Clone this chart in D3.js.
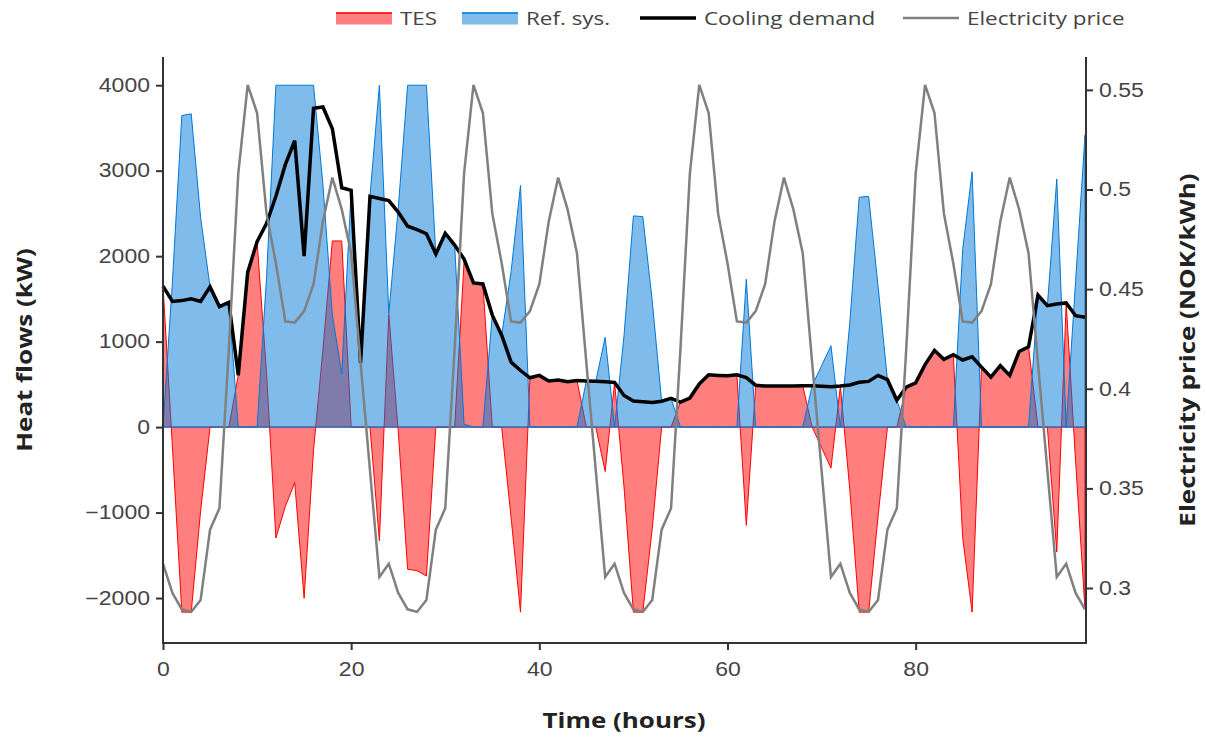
<!DOCTYPE html>
<html>
<head>
<meta charset="utf-8">
<script src="https://cdn.jsdelivr.net/npm/d3@7"></script>
<style>
  body { margin: 0; background: #fff; }
  svg { font-family: 'Open Sans', 'Noto Sans', sans-serif; }
</style>
</head>
<body>
<svg id="chart" width="1207" height="737"></svg>
<script>
// hourly values, index = hour (0..98)
const coolingDemand = [
  1650, 1470, 1480, 1500, 1470, 1640, 1410, 1460, 605, 1810,
  2170, 2380, 2700, 3070, 3350, 2000, 3730, 3745, 3490, 2800,
  2770, 750, 2700, 2675, 2650, 2515, 2350, 2310, 2262, 2025,
  2268, 2129, 1965, 1686, 1675, 1310, 1075, 760, 662, 577,
  605, 540, 550, 530, 545, 540, 535, 530, 522, 370,
  306, 297, 288, 302, 337, 293, 340, 505, 612, 605,
  600, 612, 580, 490, 480, 482, 480, 480, 484, 484,
  478, 472, 480, 493, 525, 535, 605, 555, 313, 468,
  518, 731, 898, 793, 848, 785, 822, 701, 585, 718,
  605, 885, 939, 1545, 1420, 1440, 1453, 1303, 1286
]

const tes = [
  1650, -230, -2165, -2165, -980, 0, 0, 0, 605, 1810,
  2170, 640, -1298, -930, -650, -2004, -270, 910, 2178, 2178,
  0, 0, 0, -1330, 1320, -40, -1662, -1680, -1742, 0,
  0, 0, 1930, 1686, 1675, 0, 0, -1060, -2165, 577,
  605, 540, 550, 530, 545, 0, 0, -520, 522, -700,
  -2165, -2165, -1190, 0, 0, 293, 340, 505, 612, 605,
  600, 612, -1150, 490, 480, 482, 480, 480, 484, 0,
  -240, -480, 480, -730, -2165, -2165, -1050, 0, 0, 468,
  518, 731, 898, 793, 848, -1294, -2165, 701, 585, 718,
  605, 885, 939, 0, 0, -1462, 1453, -400, -2130
]

const refSys = [
  0, 1700, 3645, 3665, 2450, 1640, 1410, 1460, 0, 0,
  0, 1740, 4000, 4000, 4000, 4000, 4000, 2835, 1312, 622,
  2770, 750, 2700, 4000, 1330, 2555, 4000, 4000, 4000, 2025,
  2268, 2129, 35, 0, 0, 1310, 1075, 1820, 2827, 0,
  0, 0, 0, 0, 0, 540, 535, 1050, 0, 1070,
  2471, 2462, 1478, 302, 337, 0, 0, 0, 0, 0,
  0, 0, 1730, 0, 0, 0, 0, 0, 0, 484,
  718, 952, 0, 1223, 2690, 2700, 1655, 555, 313, 0,
  0, 0, 0, 0, 0, 2079, 2987, 0, 0, 0,
  0, 0, 0, 1545, 1420, 2902, 0, 1703, 3416
]

const price = [
  0.3122, 0.2975, 0.2893, 0.2880, 0.2940, 0.3293, 0.3400, 0.420, 0.508, 0.5525, 0.5384, 0.488,
  0.463, 0.4338, 0.4332, 0.439, 0.4525, 0.4840, 0.5060, 0.4900, 0.4680, 0.413, 0.359, 0.3055,
  0.3122, 0.2975, 0.2893, 0.2880, 0.2940, 0.3293, 0.3400, 0.420, 0.508, 0.5525, 0.5384, 0.488,
  0.463, 0.4338, 0.4332, 0.439, 0.4525, 0.4840, 0.5060, 0.4900, 0.4680, 0.413, 0.359, 0.3055,
  0.3122, 0.2975, 0.2893, 0.2880, 0.2940, 0.3293, 0.3400, 0.420, 0.508, 0.5525, 0.5384, 0.488,
  0.463, 0.4338, 0.4332, 0.439, 0.4525, 0.4840, 0.5060, 0.4900, 0.4680, 0.413, 0.359, 0.3055,
  0.3122, 0.2975, 0.2893, 0.2880, 0.2940, 0.3293, 0.3400, 0.420, 0.508, 0.5525, 0.5384, 0.488,
  0.463, 0.4338, 0.4332, 0.439, 0.4525, 0.4840, 0.5060, 0.4900, 0.4680, 0.413, 0.359, 0.3055,
  0.3122, 0.2975, 0.2893
]

const xTicks = [0, 20, 40, 60, 80]
const yLeftTicks = [-2000, -1000, 0, 1000, 2000, 3000, 4000]
const yRightTicks = [0.3, 0.35, 0.4, 0.45, 0.5, 0.55]

const legendItems = [
  { label: 'TES', kind: 'area', fill: '#ff8080', stroke: '#ff0000' },
  { label: 'Ref. sys.', kind: 'area', fill: '#80bceb', stroke: '#0078d7' },
  { label: 'Cooling demand', kind: 'line', stroke: '#000000', width: 3.5 },
  { label: 'Electricity price', kind: 'line', stroke: '#808080', width: 2.5 }
]

const plotLeft = 163
const plotRight = 1085
const plotTop = 57
const plotBottom = 643
const stretch = 1.18 // the text in the picture is a bit wider than it is tall

const svg = d3.select('#chart')

const xScale = d3.scaleLinear().domain([0, 98]).range([plotLeft, plotRight])
const yScale = d3.scaleLinear().domain([-2526, 4330]).range([plotBottom, plotTop])
const y2Scale = d3.scaleLinear().domain([0.2724, 0.5665]).range([plotBottom, plotTop])

/**
 * Draws a filled area between zero and the series, outlined all round
 *
 * @param {number[]} values The hourly values
 * @param {string} color The fill and outline color
 */
function drawArea (values, color) {
  const area = d3.area()
    .x((d, i) => xScale(i))
    .y0(yScale(0))
    .y1((d) => yScale(d))
  svg.append('path')
    .datum(values)
    .attr('d', area)
    .attr('fill', color)
    .attr('fill-opacity', 0.5)
    .attr('stroke', color)
    .attr('stroke-width', 1)
}

// TES under, reference system on top with half transparency
drawArea(tes, '#ff0000')
drawArea(refSys, '#0078d7')

svg.append('path')
  .datum(coolingDemand)
  .attr('d', d3.line().x((d, i) => xScale(i)).y((d) => yScale(d)))
  .attr('fill', 'none')
  .attr('stroke', '#000')
  .attr('stroke-width', 3.5)

svg.append('path')
  .datum(price)
  .attr('d', d3.line().x((d, i) => xScale(i)).y((d) => y2Scale(d)))
  .attr('fill', 'none')
  .attr('stroke', '#808080')
  .attr('stroke-width', 2.5)

// axes
const axisColor = '#333'
const xAxis = svg.append('g')
  .attr('transform', `translate(0,${plotBottom})`)
  .call(d3.axisBottom(xScale).tickValues(xTicks).tickSize(7).tickPadding(12))
const yAxis = svg.append('g')
  .attr('transform', `translate(${plotLeft},0)`)
  .call(d3.axisLeft(yScale).tickValues(yLeftTicks).tickSize(7).tickPadding(6)
    .tickFormat(d3.format('d')))
const y2Axis = svg.append('g')
  .attr('transform', `translate(${plotRight + 1},0)`)
  .call(d3.axisRight(y2Scale).tickValues(yRightTicks).tickSize(7).tickPadding(6)
    .tickFormat((d) => String(+d.toFixed(2))))

;[xAxis, yAxis, y2Axis].forEach((g) => {
  g.select('.domain').attr('stroke', axisColor).attr('stroke-width', 2)
  g.selectAll('.tick line').attr('stroke', axisColor).attr('stroke-width', 2)
  g.selectAll('.tick text').attr('fill', '#444').style('font-size', '19.5px')
})
xAxis.select('.domain').attr('d', `M${plotLeft - 1},0H${plotRight + 2}`)
yAxis.select('.domain').attr('d', `M0,${plotTop}V${plotBottom + 1}`)
y2Axis.select('.domain').attr('d', `M0,${plotTop}V${plotBottom + 1}`)

// axis titles
svg.append('text')
  .attr('x', (plotLeft + plotRight) / 2)
  .attr('y', 728)
  .attr('text-anchor', 'middle')
  .attr('fill', '#222')
  .style('font-size', '22px')
  .style('font-weight', 'bold')
  .text('Time (hours)')

svg.append('text')
  .attr('transform', `translate(32,${(plotTop + plotBottom) / 2}) rotate(-90)`)
  .attr('text-anchor', 'middle')
  .attr('fill', '#222')
  .style('font-size', '22px')
  .style('font-weight', 'bold')
  .text('Heat flows (kW)')

svg.append('text')
  .attr('transform', `translate(1195,${(plotTop + plotBottom) / 2}) rotate(-90)`)
  .attr('text-anchor', 'middle')
  .attr('fill', '#222')
  .style('font-size', '22px')
  .style('font-weight', 'bold')
  .text('Electricity price (NOK/kWh)')

// legend
const legendX = [336, 462, 640, 903]
const legend = svg.append('g')
legendItems.forEach((item, i) => {
  const g = legend.append('g').attr('transform', `translate(${legendX[i]},0)`)
  if (item.kind === 'area') {
    g.append('rect')
      .attr('x', 0).attr('y', 12.5).attr('width', 56).attr('height', 12)
      .attr('fill', item.fill)
    g.append('line')
      .attr('x1', 0).attr('x2', 56).attr('y1', 13).attr('y2', 13)
      .attr('stroke', item.stroke).attr('stroke-width', 1.5)
  } else {
    g.append('line')
      .attr('x1', 0).attr('x2', 56).attr('y1', 18).attr('y2', 18)
      .attr('stroke', item.stroke)
      .attr('stroke-width', item.width)
  }
  g.append('text')
    .attr('x', 64)
    .attr('y', 25)
    .attr('fill', '#444')
    .style('font-size', '19px')
    .text(item.label)
})

// widen every label a little, as in the picture
svg.selectAll('text').each(function () {
  const w = this.getComputedTextLength()
  d3.select(this)
    .attr('textLength', w * stretch)
    .attr('lengthAdjust', 'spacingAndGlyphs')
})
</script>
</body>
</html>
